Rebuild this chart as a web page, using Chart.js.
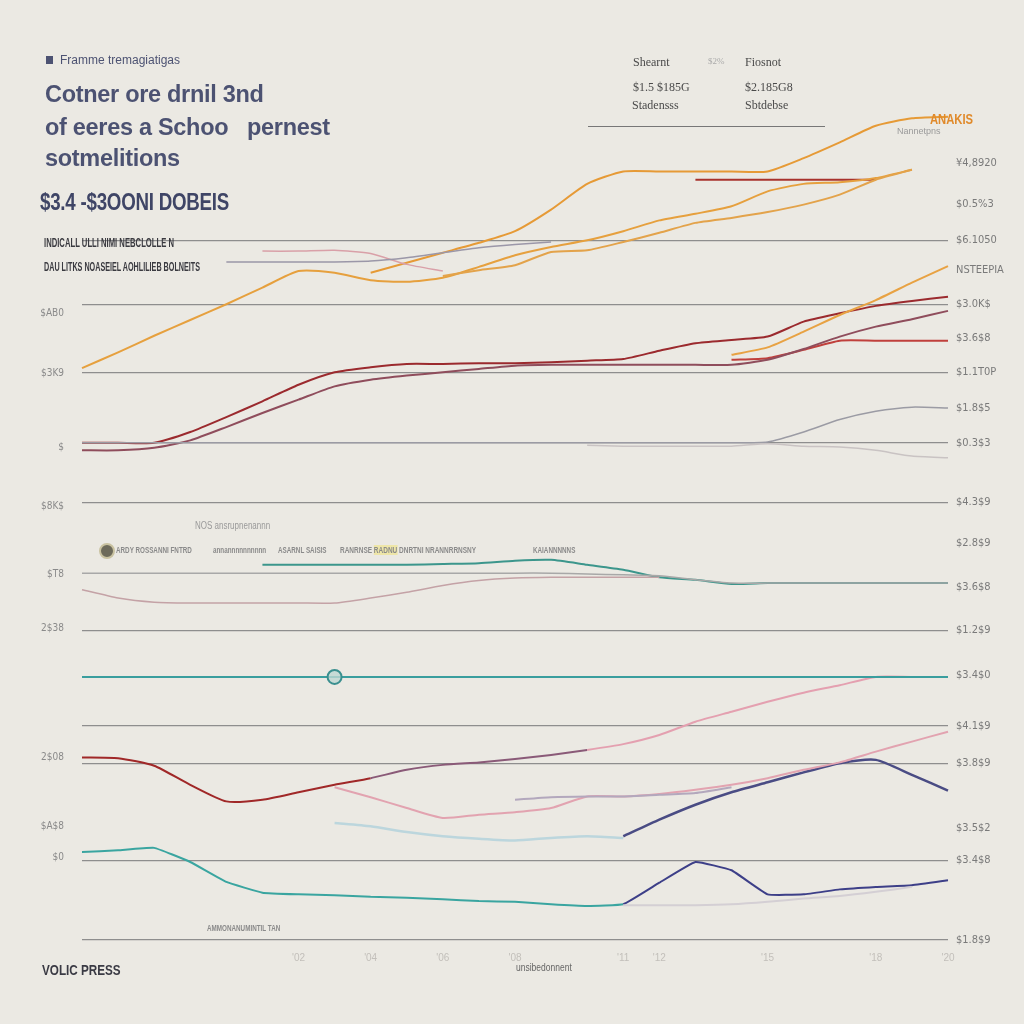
<!DOCTYPE html>
<html>
<head>
<meta charset="utf-8">
<script src="https://cdn.jsdelivr.net/npm/chart.js@4.4.1/dist/chart.umd.min.js"></script>
<style>
  body { margin: 0; background: #ebe9e3; }
  #wrap { position: relative; width: 1024px; height: 1024px; overflow: hidden; }
  #myChart { position: absolute; left: 0; top: 0; }
  .t { position: absolute; white-space: nowrap; font-family: 'Liberation Sans', Arial, sans-serif; transform-origin: left center; }
  .title { font-size: 23.5px; font-weight: bold; color: #4c5272; letter-spacing: -0.3px; }
  .hdr { font-family: 'Liberation Serif', serif; font-size: 12px; color: #4a4a4a; }
  .faint { font-size: 10px; color: #9a9a9a; }
  .leg { font-size: 9px; color: #8a8a8a; font-weight: bold; }
</style>
</head>
<body>
<div id="wrap">
  <canvas id="myChart" width="1024" height="1024"></canvas>

  <div class="t" style="left:46px;top:53px;font-size:12px;color:#4c5272;"><span style="display:inline-block;width:7px;height:8px;background:#4c5272;margin-right:7px;"></span>Framme tremagiatigas</div>
  <div class="t title" style="left:45px;top:81px;">Cotner ore drnil 3nd</div>
  <div class="t title" style="left:45px;top:114px;">of eeres a Schoo&nbsp;&nbsp; pernest</div>
  <div class="t title" style="left:45px;top:145px;">sotmelitions</div>
  <div class="t title" style="left:40px;top:188px;font-size:24px;color:#3f4566;transform:scaleX(0.78);">$3.4 -$3OONI DOBEIS</div>
  <div class="t" style="left:44px;top:236px;font-size:12px;font-weight:bold;color:#3a3a40;transform:scaleX(0.64);">INDICALL ULLI NIMI NEBCLOLLE N</div>
  <div class="t" style="left:44px;top:260px;font-size:12px;font-weight:bold;color:#3a3a40;transform:scaleX(0.6);">DAU LITKS NOASEIEL AOHLILIEB BOLNEITS</div>

  <div class="t hdr" style="left:633px;top:55px;">Shearnt</div>
  <div class="t hdr" style="left:708px;top:56px;font-size:9px;color:#aaa;">$2%</div>
  <div class="t hdr" style="left:745px;top:55px;">Fiosnot</div>
  <div class="t hdr" style="left:633px;top:80px;">$1.5 $185G</div>
  <div class="t hdr" style="left:745px;top:80px;">$2.185G8</div>
  <div class="t hdr" style="left:632px;top:98px;">Stadensss</div>
  <div class="t hdr" style="left:745px;top:98px;">Sbtdebse</div>
  <div class="t" style="left:588px;top:126px;width:237px;height:1px;background:#777;"></div>
  <div class="t" style="left:930px;top:110px;font-size:15px;font-weight:bold;color:#e08a2b;transform:scaleX(0.75);">ANAKIS</div>
  <div class="t faint" style="left:897px;top:126px;font-size:9px;">Nannetpns</div>

  <div class="t faint" style="left:195px;top:520px;transform:scaleX(0.8);">NOS ansrupnenannn</div>
  <div class="t" style="left:99px;top:543px;width:12px;height:12px;border-radius:50%;background:#6d6a5a;border:2px solid #c9c2a0;"></div>
  <div class="t leg" style="left:116px;top:545px;transform:scaleX(0.7);">ARDY ROSSANNI FNTRD</div>
  <div class="t leg" style="left:213px;top:545px;transform:scaleX(0.7);">annannnnnnnnnn</div>
  <div class="t leg" style="left:278px;top:545px;transform:scaleX(0.7);">ASARNL SAISIS</div>
  <div class="t leg" style="left:340px;top:545px;transform:scaleX(0.72);">RANRNSE <span style="background:#eee6a8;">RADNU</span> DNRTNI NRANNRRNSNY</div>
  <div class="t leg" style="left:533px;top:545px;transform:scaleX(0.7);">KAIANNNNNS</div>
  <div class="t leg" style="left:207px;top:923px;transform:scaleX(0.7);">AMMONANUMINTIL TAN</div>
  <div class="t" style="left:42px;top:961px;font-size:15px;font-weight:bold;color:#3a3a44;transform:scaleX(0.78);">VOLIC PRESS</div>
  <div class="t faint" style="left:516px;top:962px;color:#666;transform:scaleX(0.85);">unsibedonnent</div>
</div>

<script>
// x categories (only some labels are shown)
const xLabels = ["'96", "'97", "'98", "'99", "'00", "'01", "'02", "'03", "'04", "'05", "'06", "'07", "'08",
  "'09", "'10", "'11", "'12", "'13", "'14", "'15", "'16", "'17", "'18", "'19", "'20"];
const xShown = [6, 8, 10, 12, 15, 16, 19, 22, 24];

// y axis ticks and gridlines
const gridVals = [84.3, 76.6, 68.4, 59.9, 52.7, 37.3, 25.8, 21.3, 9.6, 0];
const rightVals = [93.6, 88.7, 84.3, 80.7, 76.6, 72.5, 68.4, 64.1, 59.9, 52.7, 47.8, 42.5, 37.3, 31.9, 25.8, 21.3, 13.5, 9.6, 0];
const rightLabels = ['¥4,8920', '$0.5%3', '$6.1050', 'NSTEEPIA', '$3.0K$', '$3.6$8', '$1.1T0P', '$1.8$5', '$0.3$3',
  '$4.3$9', '$2.8$9', '$3.6$8', '$1.2$9', '$3.4$0', '$4.1$9', '$3.8$9', '$3.5$2', '$3.4$8', '$1.8$9'];
const leftVals = [75.5, 68.3, 59.3, 52.3, 44.0, 37.5, 22.0, 13.7, 10.0];
const leftLabels = ['$AB0', '$3K9', '$', '$8K$', '$T8', '2$38', '2$08', '$A$8', '$0'];

// top panel
const orangeTop = [null, null, null, null, null, null, null, null, 80.4, 81.6, 82.8, 84.0, 85.4, 88.0, 91.1, 92.6, 92.6, 92.6, 92.6, 92.6, 94.2, 96.1, 98.1, 99.0, 99.2];
const orangeMain = [68.9, 70.8, 72.8, 74.7, 76.6, 78.6, 80.6, 80.4, 79.5, 79.3, 79.8, 81.1, 82.5, 83.5, 84.3, 85.4, 86.7, 87.5, 88.4, 90.2, 91.1, 91.3, 91.8, 92.8, null];
const orangeSecond = [null, null, null, null, null, null, null, null, null, null, 80.0, 80.7, 81.3, 82.9, 83.1, 84.1, 85.2, 86.4, 87.0, 87.7, 88.6, 89.8, 91.6, 92.8, null];
const redFlatTop = [null, null, null, null, null, null, null, null, null, null, null, null, null, null, null, null, null, 91.6, 91.6, 91.6, 91.6, 91.6, 91.6, null, null];
const pinkTop = [null, null, null, null, null, 83.0, 83.0, 83.1, 82.7, 81.4, 80.6, null, null, null, null, null, null, null, null, null, null, null, null, null, null];
const grayTop = [null, null, null, null, 81.7, 81.7, 81.7, 81.7, 81.8, 82.2, 82.8, 83.4, 83.8, 84.1, null, null, null, null, null, null, null, null, null, null, null];

// red group
const redA = [59.9, 59.9, 59.9, 61.2, 63.0, 64.9, 66.9, 68.4, 69.0, 69.4, 69.4, 69.5, 69.5, 69.6, 69.8, 70.0, 71.0, 71.9, 72.3, 72.7, 74.5, 75.5, 76.4, 77.0, 77.5];
const maroonB = [59.0, 59.0, 59.3, 60.2, 61.8, 63.5, 65.1, 66.7, 67.5, 68.0, 68.4, 68.8, 69.2, 69.3, 69.3, 69.3, 69.3, 69.3, 69.3, 69.9, 71.2, 72.7, 73.9, 74.8, 75.8];
const redC = [null, null, null, null, null, null, null, null, null, null, null, null, null, null, null, null, null, null, 69.9, 70.1, 71.1, 72.2, 72.2, 72.2, 72.2];
const orangeMid = [null, null, null, null, null, null, null, null, null, null, null, null, null, null, null, null, null, null, 70.5, 71.4, 73.3, 75.3, 77.1, 79.2, 81.2];
const grayMidA = [59.9, 59.9, 59.9, 59.9, 59.9, 59.9, 59.9, 59.9, 59.9, 59.9, 59.9, 59.9, 59.9, 59.9, 59.9, 59.9, 59.9, 59.9, 59.9, 60.0, 61.2, 62.7, 63.7, 64.2, 64.1];
const grayMidB = [null, null, null, null, null, null, null, null, null, null, null, null, null, null, 59.6, 59.5, 59.5, 59.5, 59.5, 59.8, 59.5, 59.4, 59.0, 58.3, 58.1];

// middle band
const tealMid = [null, null, null, null, null, 45.2, 45.2, 45.2, 45.2, 45.2, 45.3, 45.4, 45.7, 45.8, 45.2, 44.6, 43.7, 43.4, 42.9, 43.0, 43.0, 43.0, 43.0, 43.0, 43.0];
const grayMid = [44.2, 44.2, 44.2, 44.2, 44.2, 44.2, 44.2, 44.2, 44.2, 44.2, 44.2, 44.2, 44.2, 44.2, 44.1, 44.0, 43.9, 43.4, 43.0, 43.0, 43.0, 43.0, 43.0, 43.0, 43.0];
const pinkMid = [42.2, 41.2, 40.7, 40.6, 40.6, 40.6, 40.6, 40.6, 41.2, 41.9, 42.7, 43.3, 43.6, 43.7, 43.7, 43.7, 43.7, null, null, null, null, null, null, null, null];

// lower panel
const tealFlat = [31.7, 31.7, 31.7, 31.7, 31.7, 31.7, 31.7, 31.7, 31.7, 31.7, 31.7, 31.7, 31.7, 31.7, 31.7, 31.7, 31.7, 31.7, 31.7, 31.7, 31.7, 31.7, 31.7, 31.7, 31.7];
const redPink = [22.0, 21.9, 21.0, 18.7, 16.7, 16.9, 17.8, 18.7, 19.5, 20.5, 21.1, 21.4, 21.8, 22.3, 22.9, 23.6, 24.7, 26.3, 27.5, 28.7, 29.8, 30.7, 31.7, 31.7, 31.7];
const pinkLow = [null, null, null, null, null, null, null, 18.4, 17.2, 15.9, 14.7, 15.1, 15.4, 15.9, 17.3, 17.3, 17.6, 18.1, 18.7, 19.5, 20.5, 21.4, 22.7, 23.9, 25.1];
const navyLow = [null, null, null, null, null, null, null, null, null, null, null, null, null, null, null, 12.5, 14.5, 16.3, 17.8, 19.0, 20.2, 21.3, 21.7, 19.9, 18.0];
const lightBlue = [null, null, null, null, null, null, null, 14.1, 13.7, 13.0, 12.5, 12.2, 12.0, 12.3, 12.5, 12.3, null, null, null, null, null, null, null, null, null];
const grayPurple = [null, null, null, null, null, null, null, null, null, null, null, null, 16.9, 17.2, 17.3, 17.3, 17.5, 17.7, 18.4, null, null, null, null, null, null];
const tealNavy = [10.6, 10.8, 11.1, 9.4, 7.0, 5.7, 5.5, 5.4, 5.2, 5.1, 4.9, 4.7, 4.6, 4.3, 4.1, 4.3, 6.9, 9.4, 8.4, 5.5, 5.5, 6.1, 6.4, 6.6, 7.2];
const grayBottom = [null, null, null, null, null, null, null, null, null, null, null, null, null, null, null, 4.2, 4.2, 4.2, 4.3, 4.6, 5.0, 5.3, 5.8, 6.4, null];

const line = (data, color, width, extra) => Object.assign({
  data: data,
  borderColor: color,
  backgroundColor: color,
  borderWidth: width,
  pointRadius: 0,
  tension: 0.2,
  spanGaps: false,
  fill: false
}, extra || {});

const tealPoints = tealFlat.map((v, i) => (i === 7 ? 7 : 0));

const chart = new Chart(document.getElementById('myChart').getContext('2d'), {
  type: 'line',
  data: {
    labels: xLabels,
    datasets: [
      line(grayTop, '#9b97a8', 1.5),
      line(pinkTop, '#d9a0a8', 1.5),
      line(orangeSecond, '#e3a34b', 2),
      line(orangeMain, '#e6a03e', 2),
      line(orangeTop, '#e69a36', 2),
      line(redFlatTop, '#a8322c', 2),
      line(grayMidB, '#c9c3c3', 1.5),
      line(grayMidA, '#9b9ba4', 1.5),
      line(maroonB, '#8f4d5c', 2),
      line(redC, '#c0403c', 2),
      line(orangeMid, '#e8a243', 2),
      line(redA, '#9b2a2e', 2),
      line(grayMid, '#a8a8a8', 1.5),
      line(pinkMid, '#c4a2a6', 1.5),
      line(tealMid, '#3c968c', 2),
      line(tealFlat, '#3a9e9e', 2, {
        pointRadius: tealPoints,
        pointBackgroundColor: 'rgba(190,215,210,0.8)',
        pointBorderColor: '#3a8f8f',
        pointBorderWidth: 2,
        tension: 0
      }),
      line(lightBlue, '#bcd6dd', 2.5),
      line(grayPurple, '#b3a8bd', 2),
      line(pinkLow, '#e2a3b0', 2),
      line(redPink, '#e4a0b0', 2, {
        segment: {
          borderColor: ctx => (ctx.p0DataIndex < 8 ? '#a02828' : (ctx.p0DataIndex < 14 ? '#8a5a78' : '#e4a0b0'))
        }
      }),
      line(navyLow, '#4a4c84', 2.5),
      line(grayBottom, '#d4cfd4', 2),
      line(tealNavy, '#3aa5a0', 2, {
        tension: 0.1,
        segment: {
          borderColor: ctx => (ctx.p0DataIndex < 15 ? '#3aa5a0' : '#3d3f88')
        }
      })
    ]
  },
  options: {
    responsive: false,
    animation: false,
    layout: { padding: { top: 110, left: 0, right: 0, bottom: 0 } },
    scales: {
      x: {
        grid: { display: false },
        border: { display: false },
        afterFit: scale => { scale.height = 84; },
        ticks: {
          autoSkip: false,
          maxRotation: 0,
          color: '#c2bfba',
          font: { size: 10 },
          padding: 4,
          callback: (val, i) => (xShown.includes(i) ? xLabels[i] : '')
        }
      },
      y: {
        position: 'left',
        min: 0,
        max: 100,
        grid: { display: false },
        border: { display: false },
        afterFit: scale => { scale.width = 82; },
        afterBuildTicks: scale => { scale.ticks = leftVals.map(v => ({ value: v })); },
        ticks: {
          color: '#8a8a8a',
          font: { size: 10, family: 'DejaVu Sans Condensed' },
          padding: 10,
          callback: (val, i) => leftLabels[i]
        }
      },
      yR: {
        position: 'right',
        min: 0,
        max: 100,
        border: { display: false },
        afterFit: scale => { scale.width = 76; },
        afterBuildTicks: scale => { scale.ticks = rightVals.map(v => ({ value: v })); },
        grid: {
          drawTicks: false,
          lineWidth: 1.2,
          color: ctx => (ctx.tick && gridVals.includes(ctx.tick.value) ? '#8e8e8e' : 'rgba(0,0,0,0)')
        },
        ticks: {
          color: '#7a7a7a',
          font: { size: 11, family: 'DejaVu Sans Condensed' },
          padding: 8,
          callback: (val, i) => rightLabels[i]
        }
      }
    },
    plugins: {
      legend: { display: false },
      tooltip: { enabled: false }
    }
  }
});
</script>
</body>
</html>
